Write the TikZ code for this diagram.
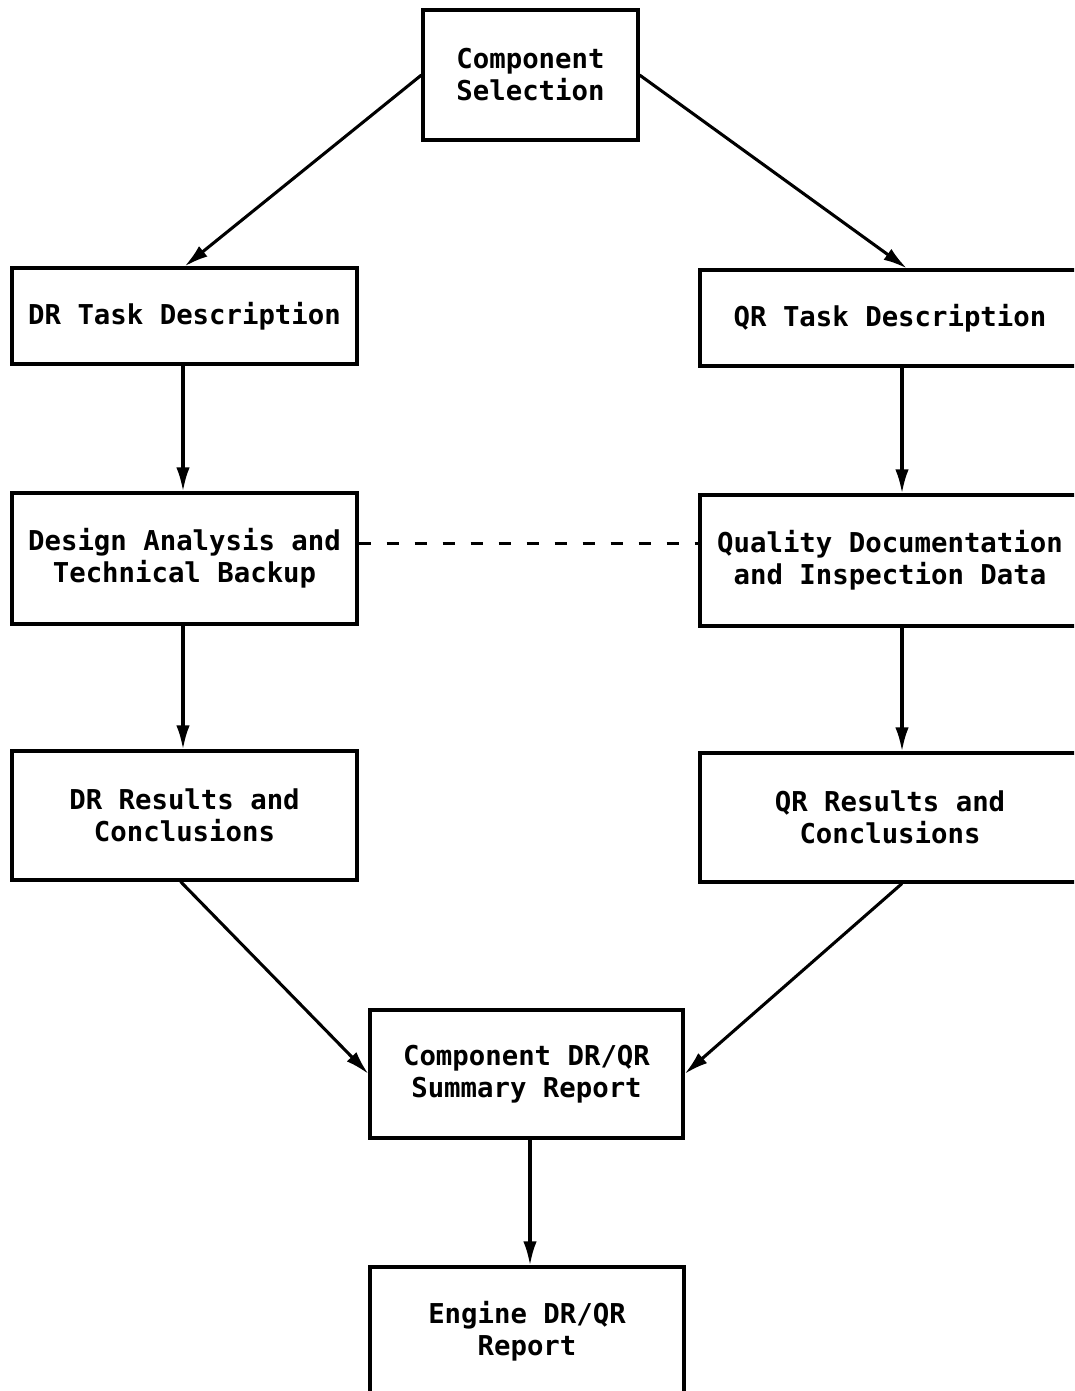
\documentclass[tikz,border=0pt]{standalone}
\usepackage{fontspec}
\setmonofont{DejaVu Sans Mono}
\usepackage{tikz}
\usetikzlibrary{calc,positioning,arrows.meta}

\begin{document}
\begin{tikzpicture}[x=0.75pt,y=-0.75pt,
  box/.style={draw,line width=2.3pt,rectangle,align=center,inner sep=0pt,
              font=\ttfamily\bfseries\fontsize{20.5}{24}\selectfont},
  flow/.style={line width=2.3pt,-{Latex[length=18pt,width=10pt]}},
  link/.style={line width=1.8pt,dash pattern=on 9pt off 12pt}]
\useasboundingbox (0,0) rectangle (1074,1391);
\clip (0,0) rectangle (1074,1391);
\node[box,minimum width=215*0.75pt,minimum height=130*0.75pt] (sel) at (530.5,75) {Component\\Selection};
\node[box,minimum width=345*0.75pt,minimum height=96*0.75pt] (drtask) at (184.5,316) {DR Task Description};
\node[box,minimum width=380*0.75pt,minimum height=96*0.75pt] (qrtask) at (890,318) {QR Task Description};
\node[box,minimum width=345*0.75pt,minimum height=131*0.75pt] (design) at (184.5,558.5) {Design Analysis and\\Technical Backup};
\node[box,minimum width=380*0.75pt,minimum height=131*0.75pt] (quality) at (890,560.5) {Quality Documentation\\and Inspection Data};
\node[box,minimum width=345*0.75pt,minimum height=129*0.75pt] (drres) at (184.5,815.5) {DR Results and\\Conclusions};
\node[box,minimum width=380*0.75pt,minimum height=129*0.75pt] (qrres) at (890,817.5) {QR Results and\\Conclusions};
\node[box,minimum width=313*0.75pt,minimum height=128*0.75pt] (summ) at (526.5,1074) {Component DR/QR\\Summary Report};
\node[box,minimum width=314*0.75pt,minimum height=128*0.75pt] (engine) at (527,1331) {Engine DR/QR\\Report};

\draw[flow] (sel.west) -- (drtask.north);
\draw[flow] (sel.east) -- ($(qrtask.north)+(17,0)$);
\draw[flow] ($(drtask.south)+(-1.5,0)$) -- ($(design.north)+(-1.5,0)$);
\draw[flow] ($(qrtask.south)+(12,0)$) -- ($(quality.north)+(12,0)$);
\draw[flow] ($(design.south)+(-1.5,0)$) -- ($(drres.north)+(-1.5,0)$);
\draw[flow] ($(quality.south)+(12,0)$) -- ($(qrres.north)+(12,0)$);
\draw[flow] ($(drres.south)+(-4,0)$) -- (summ.west);
\draw[flow] ($(qrres.south)+(12,0)$) -- (summ.east);
\draw[flow] ($(summ.south)+(3.5,0)$) -- ($(engine.north)+(3,0)$);
\draw[link] ($(design.east)+(0,-15)$) -- ($(quality.west)+(0,-17)$);
\end{tikzpicture}
\end{document}
